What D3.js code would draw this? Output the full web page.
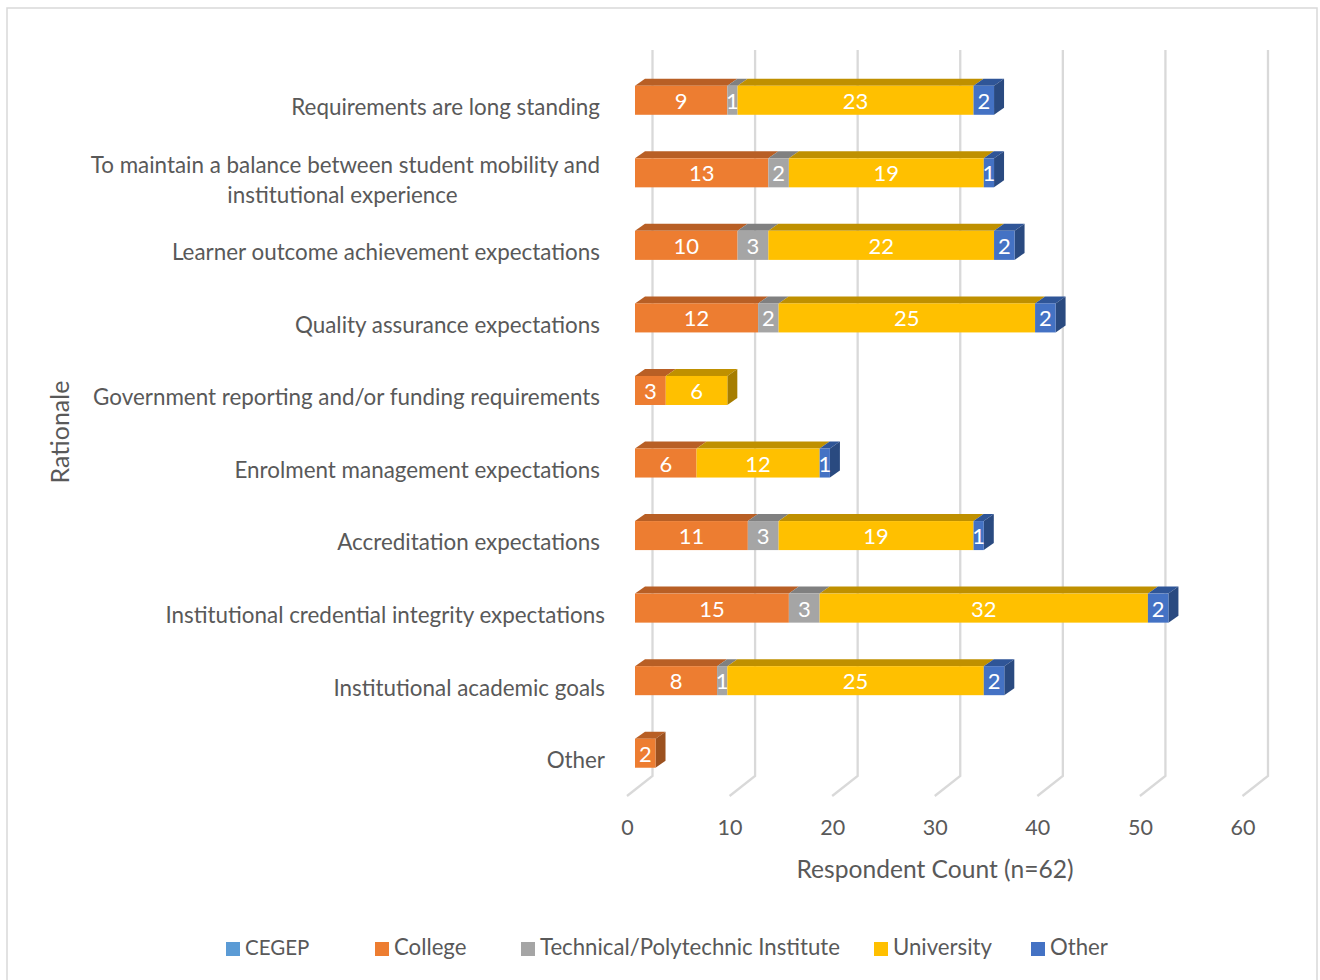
<!DOCTYPE html>
<html>
<head>
<meta charset="utf-8">
<script src="https://cdn.jsdelivr.net/npm/d3@7"></script>
<style>
  html, body { margin: 0; padding: 0; background: #fff; }
  text { font-family: Lato, "Open Sans", sans-serif; }
</style>
</head>
<body>
<div class="chart"></div>
<script>
// Rationale by institution type, stacked 3D-look bars
let categories = [
  "Requirements are long standing",
  "To maintain a balance between student mobility and|institutional experience",
  "Learner outcome achievement expectations",
  "Quality assurance expectations",
  "Government reporting and/or funding requirements",
  "Enrolment management expectations",
  "Accreditation expectations",
  "Institutional credential integrity expectations",
  "Institutional academic goals",
  "Other"
];
let seriesNames = ["CEGEP", "College", "Technical/Polytechnic Institute", "University", "Other"];
let cegep      = [0, 0, 0, 0, 0, 0, 0, 0, 0, 0];
let college    = [9, 13, 10, 12, 3, 6, 11, 15, 8, 2];
let technical  = [1, 2, 3, 2, 0, 0, 3, 3, 1, 0];
let university = [23, 19, 22, 25, 6, 12, 19, 32, 25, 0];
let other      = [2, 1, 2, 2, 0, 1, 1, 2, 2, 0];
let xTicks = [0, 10, 20, 30, 40, 50, 60];

let colors = ["#5b9bd5", "#ed7d31", "#a5a5a5", "#ffc000", "#4472c4"];
let topColors = ["#4a7fb0", "#b85f25", "#808080", "#bf9000", "#2f5597"];
let sideColors = ["#3f6d96", "#9c511f", "#6e6e6e", "#a67d00", "#2a4a80"];

let svgWidth = 1320;
let svgHeight = 980;

let svg = d3.select(".chart")
  .append("svg")
  .attr("width", svgWidth)
  .attr("height", svgHeight)
  .style("display", "block");

// page frame (bottom edge runs off the picture)
svg.append("path")
  .attr("d", "M7,980V8H1317V980")
  .attr("fill", "none")
  .attr("stroke", "#d9d9d9")
  .attr("stroke-width", 1.5);

let table = categories.map((c, i) => ({
  category: c,
  "CEGEP": cegep[i],
  "College": college[i],
  "Technical/Polytechnic Institute": technical[i],
  "University": university[i],
  "Other": other[i]
}));
let stacked = d3.stack().keys(seriesNames)(table);

let x = d3.scaleLinear().domain([0, 60]).range([635, 1250.5]);
let y = d3.scaleBand().domain(categories).range([64, 789.5]).paddingInner(0.6).paddingOuter(0.3);

// depth of the fake 3D box
let depthX = 10;
let depthY = 7;
// wall and floor offsets for the gridlines
let wallX = 17.5;
let floorX = -8;
let wallTop = 50;
let wallBottom = 776;
let floorBottom = 796;

let grid = svg.append("g").attr("fill", "none").attr("stroke", "#d9d9d9").attr("stroke-width", 2.3);
grid.selectAll("path")
  .data(xTicks)
  .enter()
  .append("path")
  .attr("d", d => `M${x(d) + wallX},${wallTop}V${wallBottom}L${x(d) + floorX},${floorBottom}`);

// x axis tick labels
let xAxis = svg.append("g")
  .attr("transform", `translate(${floorX}, 810)`)
  .call(d3.axisBottom(x).tickValues(xTicks).tickSize(0).tickPadding(10));
xAxis.select(".domain").remove();
xAxis.selectAll("text")
  .attr("fill", "#595959")
  .style("font-size", "21.5px");

// boxes, one group per series
stacked.forEach((layer, s) => {
  let segments = layer
    .map(d => ({ x0: d[0], x1: d[1], value: d[1] - d[0], category: d.data.category, row: d.data }))
    .filter(d => d.value > 0);
  let group = svg.append("g").attr("class", "series");

  group.selectAll(".top")
    .data(segments)
    .enter()
    .append("path")
    .attr("class", "top")
    .attr("fill", topColors[s])
    .attr("d", d => {
      let top = y(d.category);
      return `M${x(d.x0)},${top}L${x(d.x0) + depthX},${top - depthY}H${x(d.x1) + depthX}L${x(d.x1)},${top}Z`;
    });

  // side panel only on the last segment of each bar
  group.selectAll(".side")
    .data(segments.filter(d => d.x1 === d3.sum(seriesNames, k => d.row[k])))
    .enter()
    .append("path")
    .attr("class", "side")
    .attr("fill", sideColors[s])
    .attr("d", d => {
      let top = y(d.category);
      let h = y.bandwidth();
      return `M${x(d.x1)},${top}L${x(d.x1) + depthX},${top - depthY}V${top + h - depthY}L${x(d.x1)},${top + h}Z`;
    });

  group.selectAll(".front")
    .data(segments)
    .enter()
    .append("rect")
    .attr("class", "front")
    .attr("fill", colors[s])
    .attr("x", d => x(d.x0))
    .attr("y", d => y(d.category))
    .attr("width", d => x(d.x1) - x(d.x0))
    .attr("height", y.bandwidth());

  group.selectAll(".value")
    .data(segments)
    .enter()
    .append("text")
    .attr("class", "value")
    .attr("x", d => (x(d.x0) + x(d.x1)) / 2)
    .attr("y", d => y(d.category) + y.bandwidth() / 2 + 0.8)
    .attr("dy", "0.35em")
    .attr("text-anchor", "middle")
    .attr("fill", "#fff")
    .style("font-size", "22px")
    .text(d => d.value);
});

// category labels, the last three sit slightly further right in the original
categories.forEach((c, i) => {
  let lines = c.split("|");
  let mid = y(c) + y.bandwidth() / 2 + 7;
  let labelX = i >= 7 ? 605 : 600;
  lines.forEach((line, j) => {
    svg.append("text")
      .attr("x", j === 0 ? labelX : 342.5)
      .attr("y", mid + (j - (lines.length - 1) / 2) * 30)
      .attr("dy", "0.35em")
      .attr("text-anchor", j === 0 ? "end" : "middle")
      .attr("fill", "#595959")
      .style("font-size", "22.4px")
      .text(line);
  });
});

// axis titles
svg.append("text")
  .attr("transform", "translate(60, 432) rotate(-90)")
  .attr("dy", "0.35em")
  .attr("text-anchor", "middle")
  .attr("fill", "#595959")
  .style("font-size", "25px")
  .text("Rationale");

svg.append("text")
  .attr("x", 935)
  .attr("y", 869)
  .attr("dy", "0.35em")
  .attr("text-anchor", "middle")
  .attr("fill", "#595959")
  .style("font-size", "24.6px")
  .text("Respondent Count (n=62)");

// legend
let legendX = [226, 375, 521, 874, 1031];
let legend = svg.selectAll(".legend")
  .data(seriesNames)
  .enter()
  .append("g")
  .attr("class", "legend")
  .attr("transform", (d, i) => `translate(${legendX[i]}, 942)`);
legend.append("rect")
  .attr("width", 14)
  .attr("height", 14)
  .attr("fill", (d, i) => colors[i]);
legend.append("text")
  .attr("x", 19)
  .attr("y", 5.5)
  .attr("dy", "0.35em")
  .attr("fill", "#595959")
  .style("font-size", d => d === "CEGEP" ? "20.5px" : "22.2px")
  .text(d => d);
</script>
</body>
</html>
